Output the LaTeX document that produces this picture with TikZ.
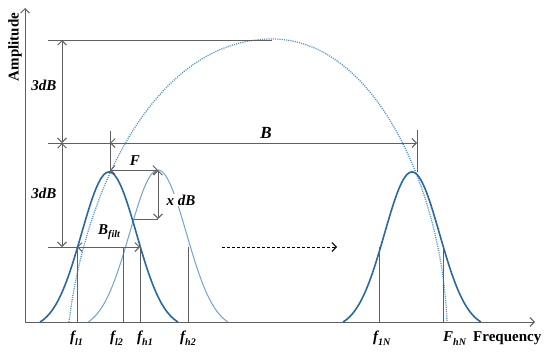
\documentclass[tikz,border=0pt]{standalone}
\usepackage{fontspec}
\setmainfont{Liberation Serif}
\usetikzlibrary{arrows.meta}
\definecolor{darkblue}{RGB}{40,105,165}
\definecolor{lightblue}{RGB}{115,162,210}
\definecolor{dotblue}{RGB}{85,150,215}
\definecolor{linegray}{RGB}{95,95,95}
\newcommand{\mysub}[2]{#1\raisebox{-3.5pt}{\fontsize{10}{10}\selectfont #2}}
\begin{document}
\begin{tikzpicture}[x=1pt,y=-1pt,
  gline/.style={draw=linegray,line width=0.9pt},
  barb/.style={{Straight Barb[length=4.5pt,width=9pt]}-{Straight Barb[length=4.5pt,width=9pt]}},
  barbend/.style={-{Straight Barb[length=4.5pt,width=9pt]}},
  lbl/.style={font=\fontsize{15}{18}\selectfont,inner sep=0pt},
  ilbl/.style={font=\fontsize{15}{18}\selectfont\bfseries\itshape,inner sep=0pt},
  gauss/.style={line width=1.6pt,draw=darkblue},
  gausslight/.style={line width=1pt,draw=lightblue},
  envelope/.style={draw=dotblue,line width=1.3pt,dash pattern=on 1.1pt off 1.1pt}]
\useasboundingbox (0,0) rectangle (550,356);

% axes
\coordinate (o) at (25,322);
\coordinate (ytop) at (25,8);
\coordinate (xend) at (535,322);
\draw[gline,barbend] (o) -- (ytop);
\draw[gline,barbend] (o) -- (xend);

% envelope (dotted)
\coordinate (e0) at (69,322);
\coordinate (epk) at (272,39);
\coordinate (e1) at (447,322);
\draw[envelope] (e0) .. controls (85,190) and (155,39) .. (epk)
                     .. controls (375,39) and (442,190) .. (e1);

% gaussians
\draw[gausslight] plot[domain=-70:70,samples=90] ({158+\x},{322-152*(exp(-(\x*\x)/1600)-0.047)/0.953});
\draw[gauss] plot[domain=-69:69,samples=90] ({109+\x},{322-150*(exp(-(\x*\x)/1512.5)-0.043)/0.957});
\draw[gauss] plot[domain=-69:69,samples=90] ({412+\x},{322-150*(exp(-(\x*\x)/1512.5)-0.043)/0.957});

% reference lines
\coordinate (t0) at (48,40);  \coordinate (t1) at (272,40);
\coordinate (m0) at (48,143); \coordinate (m1) at (110,143); \coordinate (m2) at (417,143);
\coordinate (b0) at (48,247); \coordinate (b1) at (77,247);  \coordinate (b2) at (140,247);
\draw[gline] (t0) -- (t1);
\draw[gline] (m0) -- (m1);
\draw[gline] (b0) -- (b1);

% 3dB arrows
\coordinate (d0) at (62,40); \coordinate (d1) at (62,143); \coordinate (d2) at (62,247);
\draw[gline,barb] (d0) -- (d1);
\draw[gline,barb] (d1) -- (d2);
\node[ilbl] (l3a) at (44,85) {3dB};
\node[ilbl] (l3b) at (44,193) {3dB};

% B arrow
\coordinate (v1a) at (110,131); \coordinate (v1b) at (110,172);
\coordinate (v2a) at (417,130); \coordinate (v2b) at (417,172);
\draw[gline] (v1a) -- (v1b);
\draw[gline] (v2a) -- (v2b);
\draw[gline,barb] (m1) -- (m2);
\node[ilbl,font=\fontsize{17}{20}\selectfont\bfseries\itshape] (lB) at (266,133) {B};

% F arrow
\coordinate (f0) at (110,170); \coordinate (f1) at (158,170);
\draw[gline,barb] (f0) -- (f1);
\node[ilbl] (lF) at (135,161) {F};

% x dB arrow
\coordinate (x1) at (158,219); \coordinate (x0) at (134,219);
\draw[gline] (x0) -- (x1);
\draw[gline,barb] (f1) -- (x1);
\node[ilbl,fill=white,inner sep=1pt] (lx) at (181,200) {x dB};

% B_filt arrow
\draw[gline,barb] (b1) -- (b2);
\node[ilbl] (lbf) at (109,232) {\mysub{B}{filt}};

% frequency markers
\foreach \n/\xx in {l1/77,l2/123,h1/140,h2/188,N1/379,N2/443}{
  \coordinate (\n top) at (\xx,247);
  \coordinate (\n bot) at (\xx,322);
  \draw[gline] (\n top) -- (\n bot);
}

% dashed arrow
\coordinate (da0) at (222,247); \coordinate (da1) at (337,247);
\draw[line width=0.9pt,dash pattern=on 3pt off 2pt,-{Straight Barb[length=4.5pt,width=9pt]}] (da0) -- (da1);

% axis labels
\node[lbl,rotate=90] (amp) at (15,47) {\bfseries Amplitude};
\node[lbl,anchor=base west] (freq) at (473,341.5) {\bfseries Frequency};

% frequency labels
\node[ilbl,anchor=base west] (fl1) at (70,341.5) {\mysub{f}{l1}};
\node[ilbl,anchor=base west] (fl2) at (110,341.5) {\mysub{f}{l2}};
\node[ilbl,anchor=base west] (fh1) at (137,341.5) {\mysub{f}{h1}};
\node[ilbl,anchor=base west] (fh2) at (180,341.5) {\mysub{f}{h2}};
\node[ilbl,anchor=base west] (f1N) at (373,341.5) {\mysub{f}{1N}};
\node[ilbl,anchor=base west] (FhN) at (443,341.5) {\mysub{F}{hN}};
\end{tikzpicture}
\end{document}
